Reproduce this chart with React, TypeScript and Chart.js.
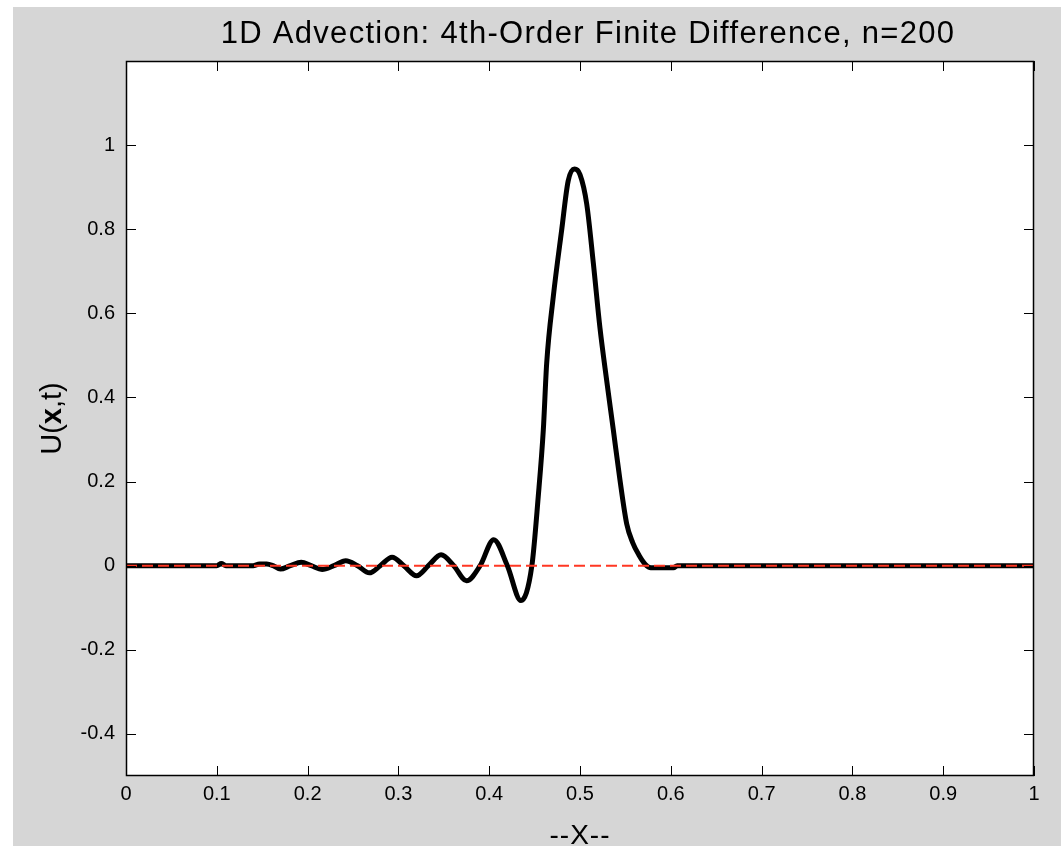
import React, { useEffect, useRef } from 'react';
import { Chart, registerables } from 'chart.js';

Chart.register(...registerables);

// ---- data ----
const xValues = [
  0, 0.1, 0.105, 0.11, 0.14, 0.147, 0.155, 0.162, 0.17, 0.181,
  0.193, 0.204, 0.216, 0.229, 0.242, 0.255, 0.268, 0.28, 0.293, 0.306,
  0.32, 0.333, 0.347, 0.361, 0.375, 0.39, 0.405, 0.42, 0.435, 0.447,
  0.454, 0.4596, 0.4633, 0.4706, 0.4798, 0.487, 0.494, 0.5, 0.5074, 0.5147,
  0.522, 0.5294, 0.5367, 0.544, 0.5514, 0.558, 0.565, 0.572, 0.578, 0.603,
  0.607, 1,
];
const uValues = [
  0, 0, 0.005, 0, 0, 0.004, 0.004, 0, -0.008, 0,
  0.008, 0, -0.009, 0, 0.012, 0, -0.017, 0, 0.02, 0,
  -0.024, 0, 0.026, 0, -0.036, 0, 0.062, 0, -0.083, 0,
  0.164, 0.323, 0.481, 0.64, 0.798, 0.915, 0.943, 0.93, 0.86, 0.719,
  0.565, 0.44, 0.323, 0.204, 0.1, 0.055, 0.025, 0.003, -0.005, -0.005,
  0, 0,
];
const refX = [0, 1];
const refY = [0, 0];

const xTicks = [0, 0.1, 0.2, 0.3, 0.4, 0.5, 0.6, 0.7, 0.8, 0.9, 1];
const xTickLabels = ['0', '0.1', '0.2', '0.3', '0.4', '0.5', '0.6', '0.7', '0.8', '0.9', '1'];
const yTicks = [-0.4, -0.2, 0, 0.2, 0.4, 0.6, 0.8, 1];
const yTickLabels = ['-0.4', '-0.2', '0', '0.2', '0.4', '0.6', '0.8', '1'];

const titleText = '1D Advection: 4th-Order Finite Difference, n=200';
const xAxisTitle = '--X--';
const yAxisTitleParts = ['U(', 'x', ',t)'];

const FONT = '"Liberation Sans", Arial, Helvetica, sans-serif';
const GRAY = '#d6d6d6';

const matlabPlugin = {
  id: 'matlabFrame',
  beforeDraw(chart: any) {
    const { ctx, width, height, chartArea } = chart;
    ctx.save();
    ctx.fillStyle = '#ffffff';
    ctx.fillRect(0, 0, width, height);
    ctx.fillStyle = GRAY;
    ctx.fillRect(13, 7, width - 13, height - 7);
    ctx.fillStyle = '#ffffff';
    ctx.fillRect(chartArea.left, chartArea.top, chartArea.right - chartArea.left, chartArea.bottom - chartArea.top);
    ctx.restore();
  },
  afterDraw(chart: any) {
    const { ctx, chartArea } = chart;
    const { left, right, top, bottom } = chartArea;
    const xs = chart.scales.x;
    const ys = chart.scales.y;
    ctx.save();
    ctx.strokeStyle = '#000000';
    ctx.lineWidth = 1;
    // inward tick marks on all four sides
    const tl = 10;
    ctx.beginPath();
    xTicks.forEach((v) => {
      const px = Math.round(xs.getPixelForValue(v)) + 0.5;
      ctx.moveTo(px, bottom);
      ctx.lineTo(px, bottom - tl);
      ctx.moveTo(px, top);
      ctx.lineTo(px, top + tl);
    });
    yTicks.forEach((v) => {
      const py = Math.round(ys.getPixelForValue(v)) + 0.5;
      ctx.moveTo(left, py);
      ctx.lineTo(left + tl, py);
      ctx.moveTo(right, py);
      ctx.lineTo(right - tl, py);
    });
    ctx.stroke();
    // axes box
    ctx.lineWidth = 1.5;
    ctx.strokeRect(left + 0.5, top + 0.5, right - left - 1, bottom - top - 1);

    // title
    ctx.fillStyle = '#000000';
    ctx.font = `31px ${FONT}`;
    ctx.textAlign = 'center';
    ctx.textBaseline = 'alphabetic';
    try { (ctx as any).letterSpacing = '1.3px'; } catch (e) {}
    ctx.fillText(titleText, 588, 43);
    try { (ctx as any).letterSpacing = '1px'; } catch (e) {}

    // x axis title
    ctx.font = `28px ${FONT}`;
    ctx.fillText(xAxisTitle, (left + right) / 2, 844);
    try { (ctx as any).letterSpacing = '0px'; } catch (e) {}

    // y axis title, rotated, with bold x
    ctx.translate(61, (top + bottom) / 2);
    ctx.rotate(-Math.PI / 2);
    const fonts = [`29px ${FONT}`, `bold 29px ${FONT}`, `29px ${FONT}`];
    let total = 0;
    const widths = yAxisTitleParts.map((p, i) => {
      ctx.font = fonts[i];
      const w = ctx.measureText(p).width;
      total += w;
      return w;
    });
    let cx = -total / 2;
    ctx.textAlign = 'left';
    yAxisTitleParts.forEach((p, i) => {
      ctx.font = fonts[i];
      ctx.fillText(p, cx, 0);
      cx += widths[i];
    });
    ctx.restore();
  },
};

export default function App() {
  const canvasRef = useRef<HTMLCanvasElement | null>(null);

  useEffect(() => {
    document.body.style.margin = '0';
    document.body.style.overflow = 'hidden';
    const canvas = canvasRef.current;
    if (!canvas) return;

    const chart = new Chart(canvas, {
      type: 'line',
      data: {
        datasets: [
          {
            label: 'reference',
            data: refX.map((x, i) => ({ x, y: refY[i] })),
            borderColor: 'rgb(255, 55, 35)',
            borderWidth: 2,
            borderDash: [11, 5],
            pointRadius: 0,
            fill: false,
            order: 0,
          },
          {
            label: 'U',
            data: xValues.map((x, i) => ({ x, y: uValues[i] })),
            borderColor: '#000000',
            borderWidth: 5,
            pointRadius: 0,
            fill: false,
            cubicInterpolationMode: 'monotone',
            borderJoinStyle: 'round',
            borderCapStyle: 'round',
            order: 1,
          },
        ],
      },
      options: {
        animation: false,
        responsive: false,
        devicePixelRatio: 1,
        layout: { padding: { left: 0, top: 61, right: 27, bottom: 0 } },
        plugins: {
          legend: { display: false },
          title: { display: false },
          tooltip: { enabled: false },
        },
        scales: {
          x: {
            type: 'linear',
            min: 0,
            max: 1,
            afterBuildTicks: (s: any) => {
              s.ticks = xTicks.map((v) => ({ value: v }));
            },
            afterFit: (s: any) => {
              s.height = 70;
            },
            grid: { display: false, drawTicks: false },
            border: { display: false },
            ticks: {
              autoSkip: false,
              maxRotation: 0,
              padding: 6,
              color: '#000000',
              font: { family: FONT, size: 20 },
              callback: (v: any) => {
                const i = xTicks.indexOf(Number(v));
                return i >= 0 ? xTickLabels[i] : '';
              },
            },
          },
          y: {
            type: 'linear',
            min: -0.5,
            max: 1.2,
            afterBuildTicks: (s: any) => {
              s.ticks = yTicks.map((v) => ({ value: v }));
            },
            afterFit: (s: any) => {
              s.width = 126;
            },
            grid: { display: false, drawTicks: false },
            border: { display: false },
            ticks: {
              autoSkip: false,
              padding: 11,
              color: '#000000',
              font: { family: FONT, size: 20 },
              callback: (v: any) => {
                const i = yTicks.indexOf(Number(v));
                return i >= 0 ? yTickLabels[i] : '';
              },
            },
          },
        },
      },
      plugins: [matlabPlugin],
    } as any);

    return () => chart.destroy();
  }, []);

  return (
    <div style={{ width: 1061, height: 846, position: 'relative', background: '#ffffff' }}>
      <canvas ref={canvasRef} width={1061} height={846} style={{ display: 'block' }} />
    </div>
  );
}
